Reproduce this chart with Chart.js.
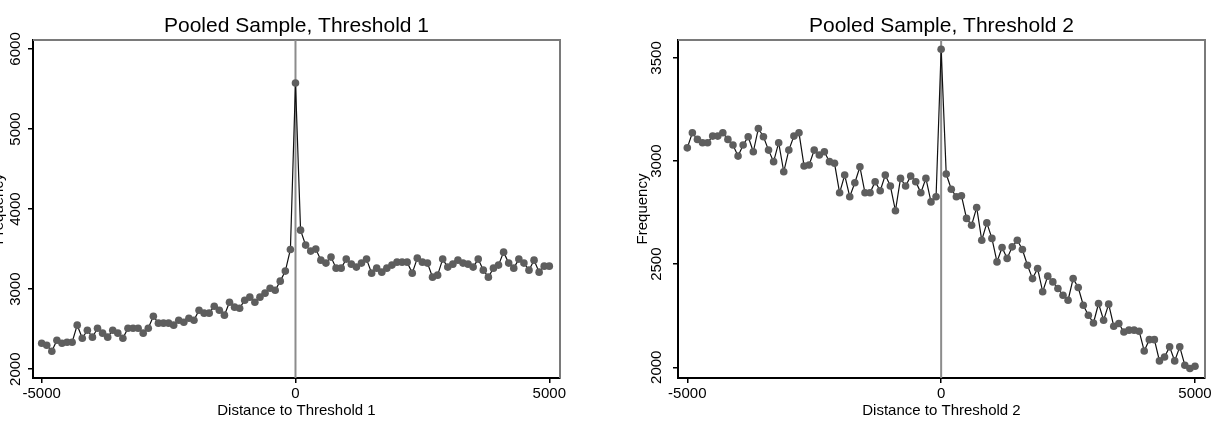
<!DOCTYPE html>
<html><head><meta charset="utf-8">
<script src="https://cdn.jsdelivr.net/npm/chart.js@4.4.1/dist/chart.umd.min.js"></script>
<style>
html,body{margin:0;padding:0;background:#fff;overflow:hidden;width:1218px;height:426px;position:relative;}
#c1{position:absolute;left:-10px;top:0;}
#c2{position:absolute;left:609px;top:0;}
</style></head><body>
<canvas id="c1" width="610" height="426"></canvas>
<canvas id="c2" width="609" height="426"></canvas>
<script>
const bins = [-5000,-4900,-4800,-4700,-4600,-4500,-4400,-4300,-4200,-4100,
  -4000,-3900,-3800,-3700,-3600,-3500,-3400,-3300,-3200,-3100,
  -3000,-2900,-2800,-2700,-2600,-2500,-2400,-2300,-2200,-2100,
  -2000,-1900,-1800,-1700,-1600,-1500,-1400,-1300,-1200,-1100,
  -1000,-900,-800,-700,-600,-500,-400,-300,-200,-100,
  0,
  100,200,300,400,500,600,700,800,900,1000,
  1100,1200,1300,1400,1500,1600,1700,1800,1900,2000,
  2100,2200,2300,2400,2500,2600,2700,2800,2900,3000,
  3100,3200,3300,3400,3500,3600,3700,3800,3900,4000,
  4100,4200,4300,4400,4500,4600,4700,4800,4900,5000];

const freq1 = [2325,2300,2225,2362,2325,2337,2337,2550,2387,2487,
  2400,2512,2450,2400,2487,2450,2387,2512,2512,2512,
  2450,2512,2662,2575,2575,2575,2550,2612,2587,2637,
  2612,2737,2700,2700,2787,2737,2675,2837,2775,2762,
  2862,2900,2837,2900,2950,3012,2987,3100,3225,3495,
  5575,
  3737,3550,3475,3500,3362,3325,3400,3262,3262,3375,
  3312,3275,3325,3375,3200,3262,3212,3262,3300,3337,
  3337,3337,3200,3387,3337,3325,3150,3175,3375,3275,
  3312,3362,3325,3312,3275,3375,3237,3150,3262,3300,
  3462,3325,3262,3375,3325,3237,3362,3212,3287,3287];

const freq2 = [3064,3137,3105,3089,3089,3121,3121,3137,3105,3078,
  3024,3078,3118,3045,3158,3118,3053,2997,3089,2948,
  3053,3121,3137,2976,2981,3053,3029,3045,2997,2989,
  2846,2932,2827,2895,2972,2846,2846,2900,2856,2932,
  2879,2759,2916,2879,2927,2900,2846,2916,2802,2827,
  3542,
  2937,2863,2827,2832,2722,2689,2775,2616,2700,2625,
  2511,2581,2528,2584,2616,2571,2495,2430,2479,2366,
  2442,2414,2382,2349,2325,2430,2387,2301,2252,2215,
  2309,2228,2306,2199,2212,2171,2180,2180,2175,2079,
  2134,2134,2031,2050,2099,2031,2099,2010,1994,2005];

const xTicks = [-5000, 0, 5000];
const yTicks1 = [2000, 3000, 4000, 5000, 6000];
const yTicks2 = [2000, 2500, 3000, 3500];
const titles = ["Pooled Sample, Threshold 1", "Pooled Sample, Threshold 2"];
const xTitles = ["Distance to Threshold 1", "Distance to Threshold 2"];
const yTitle = "Frequency";
const refLineAt = 0;

const FONT = "'Liberation Sans', Arial, Helvetica, sans-serif";

const framePlugin = {
  id: 'frame',
  beforeDatasetsDraw(chart) {
    const {ctx, chartArea: a, scales: {x}} = chart;
    ctx.save();
    ctx.strokeStyle = '#7a7a7a';
    ctx.lineWidth = 2;
    ctx.beginPath();
    ctx.moveTo(a.left, a.top);
    ctx.lineTo(a.right, a.top);
    ctx.lineTo(a.right, a.bottom);
    ctx.stroke();
    const px = x.getPixelForValue(refLineAt);
    ctx.strokeStyle = '#8c8c8c';
    ctx.lineWidth = 2;
    ctx.beginPath();
    ctx.moveTo(px, a.top);
    ctx.lineTo(px, a.bottom);
    ctx.stroke();
    ctx.restore();
  }
};

function makeChart(id, cfg) {
  return new Chart(document.getElementById(id), {
    type: 'line',
    data: {
      datasets: [{
        data: bins.map((b, i) => ({x: b, y: cfg.values[i]})),
        borderColor: '#111',
        borderWidth: 1.2,
        pointRadius: 3.8,
        pointBackgroundColor: '#5e5e5e',
        pointBorderColor: '#5e5e5e',
        pointBorderWidth: 0,
        tension: 0,
        fill: false
      }]
    },
    options: {
      responsive: false,
      animation: false,
      devicePixelRatio: 1,
      layout: {padding: {left: 0, right: cfg.padRight, top: 0, bottom: 0}},
      plugins: {
        legend: {display: false},
        tooltip: {enabled: false},
        title: {
          display: true, text: cfg.title, fullSize: false,
          color: '#000', font: {size: 21, family: FONT, weight: 'normal'},
          padding: {top: 13.5, bottom: 1.3}
        }
      },
      scales: {
        x: {
          type: 'linear', position: 'bottom',
          min: cfg.xMin, max: cfg.xMax,
          afterBuildTicks: s => { s.ticks = xTicks.map(v => ({value: v})); },
          afterFit: s => { s.height = 48; },
          border: {display: true, color: '#000', width: 2},
          grid: {display: true, drawOnChartArea: false, drawTicks: true, tickLength: 5, color: '#000', lineWidth: 1.5},
          ticks: {color: '#000', padding: 2, maxRotation: 0, font: {size: 15, family: FONT}, callback: v => String(v)},
          title: {display: true, text: cfg.xTitle, color: '#000', font: {size: 15, family: FONT}, padding: {top: 0, bottom: 6}}
        },
        y: {
          type: 'linear', position: 'left',
          min: cfg.yMin, max: cfg.yMax,
          afterBuildTicks: s => { s.ticks = cfg.yTicks.map(v => ({value: v})); },
          afterFit: s => { s.width = cfg.yWidth; },
          border: {display: true, color: '#000', width: 2},
          grid: {display: true, drawOnChartArea: false, drawTicks: true, tickLength: 5, color: '#000', lineWidth: 1.5},
          ticks: {color: '#000', minRotation: 90, maxRotation: 90, crossAlign: 'center', padding: cfg.yTickPad, font: {size: 15, family: FONT}, callback: v => String(v)},
          title: {display: true, text: yTitle, color: '#000', font: {size: 15, family: FONT}, padding: {top: cfg.yTitlePad, bottom: 0}}
        }
      }
    },
    plugins: [framePlugin]
  });
}

makeChart('c1', {
  values: freq1, title: titles[0], xTitle: xTitles[0],
  xMin: -5171, xMax: 5211, yMin: 1890, yMax: 6112,
  yTicks: yTicks1, yWidth: 43, padRight: 40, yTickPad: -5, yTitlePad: 0
});
makeChart('c2', {
  values: freq2, title: titles[1], xTitle: xTitles[1],
  xMin: -5183, xMax: 5197, yMin: 1948, yMax: 3587,
  yTicks: yTicks2, yWidth: 69, padRight: 13, yTickPad: -1, yTitlePad: 25
});
</script>
</body></html>
